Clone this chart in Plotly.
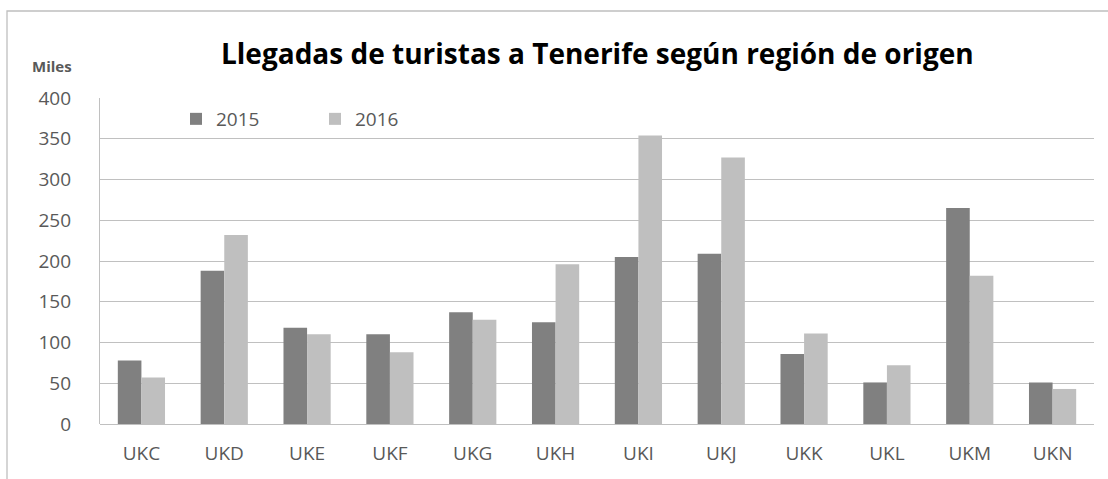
import plotly.graph_objects as go

categories = ["UKC", "UKD", "UKE", "UKF", "UKG", "UKH", "UKI", "UKJ", "UKK", "UKL", "UKM", "UKN"]
values_2015 = [78, 188, 118, 110, 137, 125, 205, 209, 86, 51, 265, 51]
values_2016 = [57, 232, 110, 88, 128, 196, 354, 327, 111, 72, 182, 43]
y_ticks = [0, 50, 100, 150, 200, 250, 300, 350, 400]

FONT = "Open Sans"
TXT = "#595959"
GRID = "#c0c0c0"

fig = go.Figure()
fig.add_trace(go.Bar(name="2015", x=categories, y=values_2015, marker=dict(color="#808080", line=dict(width=0))))
fig.add_trace(go.Bar(name="2016", x=categories, y=values_2016, marker=dict(color="#bfbfbf", line=dict(width=0))))

L, R, T, B = 100, 14, 98, 55
W, H = 1108, 479
pw = W - L - R
ph = H - T - B

def px_x(x):
    return (x - L) / pw

def px_y(y):
    return 1 - (y - T) / ph

fig.update_layout(
    width=W, height=H,
    margin=dict(l=L, r=R, t=T, b=B, autoexpand=False),
    paper_bgcolor="white", plot_bgcolor="white",
    barmode="group", bargap=0.43, bargroupgap=0,
    font=dict(family=FONT, color=TXT, size=19),
    showlegend=True,
    legend=dict(orientation="h", x=px_x(176), y=px_y(119), yanchor="middle", xanchor="left",
                font=dict(size=19, color=TXT), bgcolor="rgba(0,0,0,0)",
                entrywidth=94, entrywidthmode="pixels", traceorder="normal"),
    xaxis=dict(showgrid=False, showline=False, ticks="", tickfont=dict(size=19, color=TXT),
               ticklabelstandoff=16, automargin=False),
    yaxis=dict(range=[0, 400], tickvals=y_ticks, showgrid=True, gridcolor=GRID, gridwidth=1.3,
               showline=True, linecolor=GRID, linewidth=1.3, zeroline=True, zerolinecolor=GRID,
               zerolinewidth=1.3, tickfont=dict(size=19, color=TXT), ticks="", ticklabelstandoff=24,
               automargin=False),
    annotations=[
        dict(text="<b>Llegadas de turistas a Tenerife según región de origen</b>", xref="paper", yref="paper",
             x=px_x(597), y=px_y(53), xanchor="center", yanchor="middle", showarrow=False,
             font=dict(family=FONT, size=28, color="black")),
        dict(text="<b>Miles</b>", xref="paper", yref="paper", x=px_x(52), y=px_y(66),
             xanchor="center", yanchor="middle", showarrow=False, font=dict(family=FONT, size=15, color=TXT)),
    ],
    shapes=[
        dict(type="rect", xref="paper", yref="paper", x0=px_x(7), y0=px_y(520), x1=px_x(1150), y1=px_y(11),
             line=dict(color="#bfbfbf", width=1.3), fillcolor="rgba(0,0,0,0)", layer="below"),
    ],
)

fig.write_html("out.html", config={"displayModeBar": False},
               post_script="document.body.style.margin='0';document.body.style.padding='0';")
